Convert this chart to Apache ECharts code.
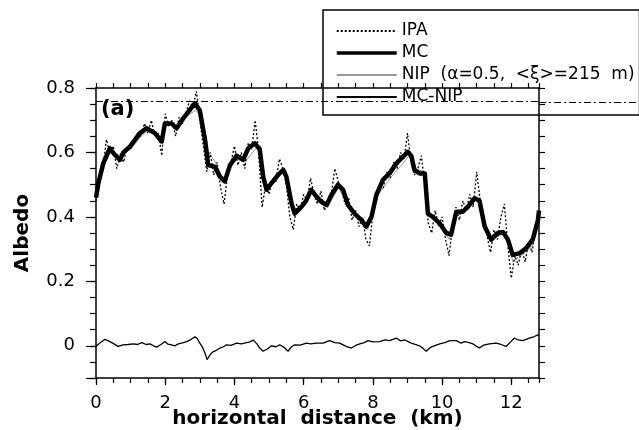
<!DOCTYPE html>
<html>
<head>
<meta charset="utf-8">
<script src="https://cdn.jsdelivr.net/npm/echarts@6/dist/echarts.min.js"></script>
<style>html,body{margin:0;background:#fff}#c{width:639px;height:430px}</style>
</head>
<body>
<div id="c"></div>
<script>
// albedo along the cloud transect, panel (a)
const FONT = 'DejaVu Sans, sans-serif';
const INK = '#000';

const xLabels = [0, 2, 4, 6, 8, 10, 12];
const yLabels = [0, 0.2, 0.4, 0.6, 0.8];
const yMajor = [-0.1, 0, 0.2, 0.4, 0.6, 0.8];
const refLine = 0.755;   // dash-dot line near the top

const names = ['IPA', 'MC', 'NIP  (\u03b1=0.5,  <\u03be>=215  m)', 'MC-NIP'];

// MC: [km, albedo]
const mc = [[0,0.46],[0.07,0.505],[0.21,0.566],[0.4,0.613],[0.55,0.592],[0.69,0.577],[0.79,0.6],[0.98,0.618],[1.27,0.66],[1.46,0.675],[1.7,0.66],[1.9,0.634],[1.99,0.69],[2.18,0.69],[2.33,0.675],[2.52,0.706],[2.71,0.732],[2.86,0.753],[3.0,0.73],[3.15,0.64],[3.24,0.561],[3.43,0.556],[3.58,0.525],[3.72,0.51],[3.87,0.56],[4.06,0.59],[4.25,0.577],[4.4,0.613],[4.59,0.628],[4.73,0.61],[4.83,0.525],[4.93,0.484],[5.07,0.505],[5.26,0.53],[5.41,0.546],[5.5,0.525],[5.65,0.442],[5.74,0.41],[5.94,0.432],[6.07,0.45],[6.22,0.484],[6.37,0.463],[6.51,0.447],[6.66,0.437],[6.8,0.468],[6.99,0.5],[7.14,0.484],[7.28,0.437],[7.47,0.41],[7.67,0.39],[7.81,0.37],[7.96,0.4],[8.1,0.468],[8.29,0.515],[8.48,0.535],[8.68,0.566],[8.87,0.587],[9.01,0.602],[9.11,0.59],[9.2,0.546],[9.35,0.535],[9.5,0.535],[9.59,0.41],[9.73,0.4],[9.93,0.38],[10.12,0.35],[10.26,0.345],[10.41,0.416],[10.6,0.416],[10.75,0.432],[10.94,0.458],[11.08,0.45],[11.23,0.37],[11.42,0.329],[11.61,0.35],[11.76,0.353],[11.9,0.33],[12.04,0.282],[12.24,0.287],[12.43,0.303],[12.62,0.33],[12.77,0.39],[12.8,0.42]];

// NIP: [km, albedo] (mostly hidden under MC)
const nip = [[0,0.46],[0.2,0.55],[0.4,0.6],[0.6,0.59],[0.8,0.6],[1.0,0.61],[1.3,0.65],[1.5,0.67],[1.7,0.66],[1.9,0.63],[2.0,0.68],[2.2,0.69],[2.35,0.67],[2.6,0.71],[2.86,0.73],[3.0,0.72],[3.15,0.66],[3.25,0.6],[3.45,0.57],[3.7,0.51],[3.9,0.56],[4.1,0.58],[4.3,0.57],[4.6,0.61],[4.75,0.62],[4.9,0.5],[5.1,0.5],[5.4,0.54],[5.5,0.54],[5.7,0.42],[5.95,0.43],[6.2,0.48],[6.5,0.44],[6.7,0.43],[7.0,0.49],[7.3,0.44],[7.6,0.39],[7.85,0.36],[8.1,0.46],[8.5,0.52],[8.9,0.57],[9.05,0.59],[9.2,0.55],[9.5,0.54],[9.6,0.42],[9.9,0.38],[10.2,0.33],[10.4,0.4],[10.7,0.42],[10.95,0.45],[11.1,0.46],[11.25,0.38],[11.45,0.33],[11.8,0.35],[12.05,0.26],[12.3,0.28],[12.6,0.31],[12.8,0.39]];

// IPA sampled every 0.1 km from 0 to 12.8
const ipaStep = 0.1;
const ipa = [0.45,0.52,0.55,0.64,0.60,0.62,0.55,0.59,0.57,0.62,
  0.61,0.64,0.66,0.65,0.69,0.66,0.70,0.65,0.66,0.59,
  0.72,0.68,0.70,0.65,0.71,0.69,0.72,0.76,0.74,0.79,
  0.70,0.62,0.54,0.60,0.53,0.57,0.49,0.44,0.53,0.57,
  0.62,0.56,0.60,0.55,0.63,0.61,0.70,0.60,0.43,0.50,
  0.47,0.52,0.51,0.58,0.55,0.50,0.40,0.36,0.44,0.42,
  0.47,0.45,0.52,0.47,0.44,0.48,0.42,0.45,0.47,0.55,
  0.51,0.48,0.44,0.46,0.39,0.42,0.37,0.40,0.33,0.31,
  0.41,0.45,0.50,0.49,0.54,0.52,0.57,0.55,0.60,0.58,
  0.66,0.57,0.53,0.55,0.59,0.50,0.38,0.35,0.42,0.37,
  0.40,0.33,0.28,0.37,0.43,0.39,0.45,0.42,0.47,0.43,
  0.54,0.45,0.39,0.34,0.29,0.36,0.33,0.40,0.44,0.31,
  0.21,0.28,0.25,0.30,0.26,0.32,0.29,0.36,0.42];

// MC-NIP difference: [km, albedo]
const mcNip = [[0,-0.002],[0.1,0.008],[0.26,0.02],[0.4,0.013],[0.52,0.006],[0.64,-0.002],[0.78,0.003],[0.92,0.004],[1.08,0.006],[1.2,0.004],[1.32,0.01],[1.45,0.004],[1.56,0.006],[1.66,0],[1.75,-0.004],[1.88,0.004],[1.99,0.013],[2.08,0.005],[2.18,0.003],[2.28,0],[2.38,0.006],[2.5,0.009],[2.62,0.013],[2.75,0.02],[2.86,0.028],[2.93,0.022],[3.0,0.008],[3.08,-0.005],[3.15,-0.023],[3.21,-0.043],[3.3,-0.027],[3.39,-0.018],[3.48,-0.014],[3.58,-0.007],[3.68,-0.003],[3.77,0.003],[3.9,0.001],[4.06,0.008],[4.2,0.006],[4.35,0.01],[4.45,0.012],[4.54,0.018],[4.65,0.006],[4.73,-0.007],[4.83,-0.017],[4.95,-0.01],[5.07,0],[5.2,-0.003],[5.31,0.003],[5.42,-0.004],[5.55,-0.017],[5.64,-0.004],[5.74,0.003],[5.9,0.002],[6.08,0.008],[6.2,0.006],[6.37,0.008],[6.56,0.008],[6.75,0.016],[6.9,0.01],[7.04,0.008],[7.23,-0.002],[7.38,-0.007],[7.5,0.001],[7.62,0.006],[7.75,0.01],[7.86,0.016],[8.0,0.012],[8.2,0.013],[8.35,0.018],[8.48,0.016],[8.68,0.024],[8.8,0.015],[8.92,0.018],[9.11,0.008],[9.22,0.004],[9.35,0],[9.45,-0.008],[9.54,-0.017],[9.65,-0.006],[9.73,-0.002],[9.93,0.006],[10.08,0.01],[10.22,0.016],[10.41,0.016],[10.55,0.008],[10.65,0.013],[10.78,0.01],[10.89,0.006],[11.0,-0.002],[11.08,-0.007],[11.2,0.002],[11.37,0.006],[11.56,0.008],[11.7,0.004],[11.85,-0.002],[11.98,0.012],[12.09,0.024],[12.2,0.018],[12.33,0.016],[12.52,0.024],[12.65,0.028],[12.77,0.034],[12.8,0.03]];

const X_MAX = 12.8, Y_MIN = -0.1, Y_MAX = 0.8;

const axisLine = { show: true, onZero: false, lineStyle: { color: INK, width: 1.5 } };
const noLine = { show: false, onZero: false };
const tick = (len, extra) => Object.assign({ show: true, inside: false, length: len, lineStyle: { color: INK, width: 1.2 } }, extra || {});
const xBase = { type: 'value', gridIndex: 0, min: 0, max: X_MAX, interval: 0.5, splitLine: { show: false } };
const yBase = { type: 'value', gridIndex: 0, min: Y_MIN, max: Y_MAX, interval: 0.05, splitLine: { show: false } };

const chart = echarts.init(document.getElementById('c'));
chart.setOption({
  animation: false,
  backgroundColor: '#fff',
  textStyle: { fontFamily: FONT, color: INK },
  title: { text: '(a)', left: 96, top: 94, textStyle: { fontFamily: FONT, fontWeight: 'bold', fontSize: 21, color: INK } },
  grid: { left: 96, right: 100, top: 88, bottom: 52, containLabel: false, outerBoundsMode: 'none' },
  legend: {
    data: [
      { name: names[0] },
      { name: names[1], lineStyle: { width: 3.5 } },
      { name: names[2] },
      { name: names[3] }
    ],
    orient: 'vertical', left: 323, top: 10,
    padding: [12, 5, 9, 12], itemGap: 4, itemWidth: 60, itemHeight: 14,
    borderColor: INK, borderWidth: 1.5, backgroundColor: 'rgba(255,255,255,0)',
    itemStyle: { opacity: 0 },
    textStyle: { fontFamily: FONT, fontSize: 17, lineHeight: 18, color: INK },
    selectedMode: false
  },
  xAxis: [
    Object.assign({}, xBase, {
      position: 'bottom', axisLine, axisTick: tick(5),
      axisLabel: { customValues: xLabels, margin: 16, fontFamily: FONT, fontSize: 18, color: INK },
      name: 'horizontal  distance  (km)', nameLocation: 'middle', nameGap: 31, nameMoveOverlap: false,
      nameTextStyle: { fontFamily: FONT, fontWeight: 'bold', fontSize: 20, color: INK }
    }),
    Object.assign({}, xBase, { position: 'top', axisLine, axisTick: tick(5), axisLabel: { show: false } }),
    Object.assign({}, xBase, { position: 'bottom', axisLine: noLine, axisTick: tick(7, { customValues: xLabels }), axisLabel: { show: false } })
  ],
  yAxis: [
    Object.assign({}, yBase, {
      position: 'left', axisLine, axisTick: tick(6),
      axisLabel: { customValues: yLabels, margin: 21, fontFamily: FONT, fontSize: 18, color: INK, formatter: (v) => (v === 0 ? '0' : v.toFixed(1)) },
      name: 'Albedo', nameLocation: 'middle', nameGap: 63, nameRotate: 90, nameMoveOverlap: false,
      nameTextStyle: { fontFamily: FONT, fontWeight: 'bold', fontSize: 20, color: INK }
    }),
    Object.assign({}, yBase, { position: 'right', axisLine, axisTick: tick(6), axisLabel: { show: false } }),
    Object.assign({}, yBase, { position: 'left', axisLine: noLine, axisTick: tick(10, { customValues: yMajor }), axisLabel: { show: false } })
  ],
  series: [
    {
      name: names[0], type: 'line', symbol: 'none', z: 3,
      data: ipa.map((v, i) => [+(i * ipaStep).toFixed(2), v]),
      lineStyle: { color: INK, width: 1.3, type: [2, 2] },
      markLine: {
        silent: true, symbol: 'none', label: { show: false },
        lineStyle: { color: INK, width: 1, type: [7, 3, 2, 3] },
        data: [{ yAxis: refLine }]
      }
    },
    { name: names[1], type: 'line', symbol: 'none', z: 5, data: mc, lineStyle: { color: INK, width: 4.5, join: 'round' } },
    { name: names[2], type: 'line', symbol: 'none', z: 2, data: nip, lineStyle: { color: '#9a9a9a', width: 1 } },
    { name: names[3], type: 'line', symbol: 'none', z: 4, data: mcNip, lineStyle: { color: INK, width: 1.3 } }
  ]
});

// the dash-dot line runs on past the frame to the page edge
const yPix = chart.convertToPixel({ yAxisIndex: 0 }, refLine);
const xEnd = chart.convertToPixel({ xAxisIndex: 0 }, X_MAX);
chart.setOption({
  graphic: [{
    type: 'line', silent: true, z: 10,
    shape: { x1: xEnd, y1: yPix, x2: 639, y2: yPix },
    style: { stroke: INK, lineWidth: 1, lineDash: [7, 3, 2, 3] }
  }]
});
</script>
</body>
</html>
